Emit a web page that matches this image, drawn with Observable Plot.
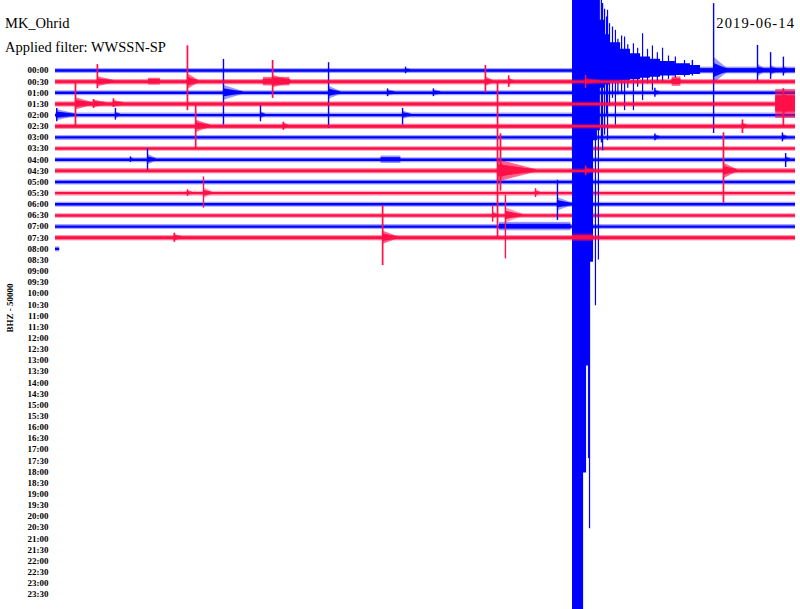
<!DOCTYPE html>
<html>
<head>
<meta charset="utf-8">
<script src="https://cdn.jsdelivr.net/npm/d3@7"></script>
<script src="https://cdn.jsdelivr.net/npm/@observablehq/plot@0.6"></script>
<style>
  body { margin: 0; background: #fff; }
  #wrap { position: relative; width: 800px; height: 609px; overflow: hidden; }
  #chart svg { display: block; }
  .t { position: absolute; font-family: "Liberation Serif", serif; font-size: 14.5px; line-height: 14.5px; color: #000; white-space: nowrap; }
</style>
</head>
<body>
<div id="wrap">
  <div id="chart"></div>
  <div class="t" style="left:5px; top:16px;">MK_Ohrid</div>
  <div class="t" style="left:5px; top:39.5px;">Applied filter: WWSSN-SP</div>
  <div class="t" style="right:5px; top:16px; letter-spacing:1.1px;">2019-06-14</div>
</div>
<script>
// ---- Data ----
const channelLabel = "BHZ - 50000";

// half-hour tick labels (one per helicorder line)
const tickLabels = ["00:00","00:30","01:00","01:30","02:00","02:30","03:00","03:30",
  "04:00","04:30","05:00","05:30","06:00","06:30","07:00","07:30",
  "08:00","08:30","09:00","09:30","10:00","10:30","11:00","11:30",
  "12:00","12:30","13:00","13:30","14:00","14:30","15:00","15:30",
  "16:00","16:30","17:00","17:30","18:00","18:30","19:00","19:30",
  "20:00","20:30","21:00","21:30","22:00","22:30","23:00","23:30"];

const traceColors = ["#0000ff", "#ff1048"];   // alternating line colours

// recorded lines: row index, minute where the recording ends
const traceRows = [0,1,2,3,4,5,6,7,8,9,10,11,12,13,14,15,16];
const traceEnds = [30,30,30,30,30,30,30,30,30,30,30,30,30,30,30,30,0.17];

// lines drawn again above the main shock
const overRows = [1, 3, 5, 9, 15];

// discrete arrivals: [row, minute, peak up, peak down, coda amplitude, coda length (min)]
// amplitudes in trace spacings
const events = [
  [0, 14.19, 0.3, 0.3, 0.2, 0.2],
  [0, 25.82, 0.9, 0.5, 0.4, 0.3],
  [0, 26.68, 6.0, 5.65, 1.2, 0.6],
  [0, 28.46, 2.25, 1.1, 0.6, 0.3],
  [0, 28.99, 1.6, 0.8, 0.5, 0.3],
  [0, 29.51, 1.2, 0.5, 0.4, 0.2],
  [1, 1.70, 1.52, 0.63, 0.45, 0.65],
  [1, 5.35, 3.2, 2.6, 0.7, 0.45],
  [1, 8.80, 1.9, 1.5, 0.55, 0.75],
  [1, 17.43, 1.45, 1.0, 0.45, 0.3],
  [1, 18.37, 0.5, 0.5, 0.3, 0.2],
  [1, 21.49, 0.55, 0.6, 0.3, 0.6],
  [2, 6.81, 3.0, 2.9, 0.68, 0.8],
  [2, 11.07, 2.7, 3.2, 0.6, 0.5],
  [2, 13.46, 0.35, 0.35, 0.3, 0.3],
  [2, 15.32, 0.35, 0.35, 0.3, 0.3],
  [2, 24.3, 0.4, 0.4, 0.3, 0.2],
  [3, 0.81, 1.9, 2.0, 0.55, 0.7],
  [3, 1.54, 0.4, 0.4, 0.35, 0.5],
  [3, 2.35, 0.45, 0.3, 0.3, 0.4],
  [3, 29.51, 1.35, 2.0, 1.0, 0.45],
  [4, 0.05, 0.6, 0.6, 0.5, 0.75],
  [4, 2.43, 0.6, 0.45, 0.3, 0.2],
  [4, 8.31, 0.9, 0.6, 0.35, 0.2],
  [4, 14.07, 0.6, 0.9, 0.4, 0.35],
  [5, 5.68, 1.9, 2.0, 0.55, 0.6],
  [5, 9.24, 0.35, 0.35, 0.3, 0.2],
  [5, 27.85, 0.55, 0.65, 0.3, 0.2],
  [6, 24.3, 0.3, 0.3, 0.25, 0.2],
  [6, 29.47, 0.4, 0.4, 0.3, 0.2],
  [7, 20.96, 0.55, 0.65, 0.3, 0.3],
  [8, 3.04, 0.25, 0.25, 0.2, 0.1],
  [8, 3.73, 1.0, 1.0, 0.5, 0.35],
  [8, 29.6, 0.55, 0.7, 0.3, 0.2],
  [9, 17.92, 7.9, 6.1, 1.0, 1.55],
  [9, 18.04, 3.3, 1.8, 0.8, 0.3],
  [9, 21.49, 0.45, 0.45, 0.3, 0.4],
  [9, 27.08, 3.4, 2.9, 0.7, 0.55],
  [11, 5.35, 0.3, 0.3, 0.25, 0.2],
  [11, 6.0, 1.45, 1.35, 0.5, 0.35],
  [11, 19.46, 0.4, 0.4, 0.3, 0.2],
  [12, 20.35, 2.15, 1.45, 0.6, 0.6],
  [13, 17.72, 0.9, 0.6, 0.4, 0.2],
  [13, 18.24, 1.8, 3.9, 0.7, 0.7],
  [15, 4.82, 0.4, 0.4, 0.3, 0.3],
  [15, 13.26, 2.9, 2.5, 0.6, 0.6]
];

// emergent noise bursts: [row, start minute, end minute, half amplitude]
const bursts = [
  [0, 25.3, 30, 0.3],
  [1, 3.77, 4.25, 0.3],
  [1, 8.43, 9.5, 0.38],
  [1, 25.0, 25.35, 0.42],
  [3, 29.2, 30, 1.3],
  [8, 13.2, 14.0, 0.33],
  [14, 18.0, 20.9, 0.38],
  [15, 20.96, 21.8, 0.35]
];

// main shock on the 00:00 line: envelope [minute, up, down] (clipped by the page)
const mainEnvelope = [
  [20.96, 7, 50],
  [21.41, 7, 36.1],
  [21.53, 7, 26.5],
  [21.61, 7, 19.5],
  [21.69, 7, 17.2],
  [21.81, 7, 6.3],
  [21.97, 7, 5.4],
  [22.09, 4.5, 1.6],
  [22.30, 3.2, 1.3],
  [22.50, 2.5, 1.1],
  [22.91, 1.9, 0.9],
  [23.31, 1.5, 0.8],
  [23.72, 1.2, 0.7],
  [24.12, 1.0, 0.6],
  [24.53, 0.8, 0.5],
  [25.13, 0.6, 0.45],
  [25.74, 0.45, 0.35],
  [26.15, 0.35, 0.3]
];
// single swings of the main shock: [minute, up, down]
const mainSpikes = [
  [21.61, 7, 34.8],
  [21.65, 7, 41.1],
  [21.77, 7, 16.9],
  [21.89, 7, 21.1],
  [22.01, 7, 17.0],
  [22.13, 6.3, 6.5],
  [22.18, 6.0, 7.2],
  [22.26, 5.5, 5.8],
  [22.34, 4.8, 4.0],
  [22.38, 5.4, 6.3],
  [22.46, 4.2, 3.2],
  [22.58, 3.9, 2.5],
  [22.70, 3.6, 4.9],
  [22.80, 2.8, 2.2],
  [22.95, 3.1, 2.0],
  [23.07, 3.0, 3.6],
  [23.20, 2.3, 1.6],
  [23.43, 2.4, 3.6],
  [23.60, 2.0, 1.5],
  [23.80, 3.3, 2.7],
  [24.00, 1.9, 1.2],
  [24.20, 2.2, 1.8],
  [24.40, 1.6, 1.0],
  [24.61, 2.0, 1.0],
  [24.85, 1.3, 0.8],
  [25.13, 1.2, 0.7],
  [25.50, 0.9, 0.6]
];

// ---- Derived tables ----
const rowTable = traceRows.map((r, i) => ({row: r, end: traceEnds[i], color: traceColors[r % 2]}));
const evTable = events.map(([row, t, up, down, coda, dur], i) => ({id: i, row, t, up, down, coda, dur, color: traceColors[row % 2]}));
const codaTable = evTable.flatMap(e => [
  {id: e.id, row: e.row, t: e.t, a: e.coda, color: e.color},
  {id: e.id, row: e.row, t: e.t + e.dur, a: 0.12, color: e.color}
]);
const burstTable = bursts.map(([row, t0, t1, amp]) => ({row, t0, t1, amp, color: traceColors[row % 2]}));
const envTable = mainEnvelope.map(([t, up, down]) => ({t, up, down}));
const spikeTable = mainSpikes.map(([t, up, down]) => ({t, up, down}));

function traceMarks(filter) {
  const f = d => filter(d.row);
  return [
    Plot.ruleY(rowTable.filter(f), {y: "row", x1: 0, x2: "end", stroke: "color", strokeWidth: 5, strokeOpacity: 0.35}),
    Plot.ruleY(rowTable.filter(f), {y: "row", x1: 0, x2: "end", stroke: "color", strokeWidth: 2.4}),
    Plot.rect(burstTable.filter(f), {x1: "t0", x2: "t1", y1: d => d.row - d.amp, y2: d => d.row + d.amp, fill: "color", fillOpacity: 0.4}),
    Plot.rect(burstTable.filter(f), {x1: "t0", x2: "t1", y1: d => d.row - d.amp * 0.55, y2: d => d.row + d.amp * 0.55, fill: "color", fillOpacity: 0.9}),
    Plot.areaY(codaTable.filter(f), {x: "t", y1: d => d.row - d.a, y2: d => d.row + d.a, z: "id", fill: "color", fillOpacity: 0.4, curve: "linear"}),
    Plot.areaY(codaTable.filter(f), {x: "t", y1: d => d.row - d.a * 0.55, y2: d => d.row + d.a * 0.55, z: "id", fill: "color", fillOpacity: 0.95, curve: "linear"}),
    Plot.ruleX(evTable.filter(f), {x: "t", y1: d => d.row - d.up, y2: d => d.row + d.down, stroke: "color", strokeWidth: 1.4})
  ];
}

const chart = Plot.plot({
  width: 800,
  height: 609,
  marginTop: 70,
  marginBottom: 15,
  marginLeft: 55,
  marginRight: 5,
  x: {domain: [0, 30], range: [55, 795], axis: null},
  y: {domain: [0, 47], range: [70, 594]},
  color: {type: "identity"},
  style: {fontFamily: "'Liberation Serif', serif", fontSize: "9px", background: "white", color: "black"},
  marks: [
    ...traceMarks(() => true),
    Plot.areaY(envTable, {x: "t", y1: d => -d.up, y2: d => d.down, fill: traceColors[0], curve: "step-after"}),
    Plot.ruleX(spikeTable, {x: "t", y1: d => -d.up, y2: d => d.down, stroke: traceColors[0], strokeWidth: 1.2}),
    ...traceMarks(r => overRows.includes(r)),
    Plot.axisY({ticks: tickLabels.map((_, i) => i), tickFormat: i => tickLabels[i], tickSize: 0, tickPadding: 7, label: null, fontWeight: "bold", fontSize: 9}),
    Plot.text([channelLabel], {frameAnchor: "left", dx: -45, rotate: -90, fontSize: 9, fontWeight: "bold"})
  ]
});
document.getElementById("chart").appendChild(chart);
</script>
</body>
</html>
